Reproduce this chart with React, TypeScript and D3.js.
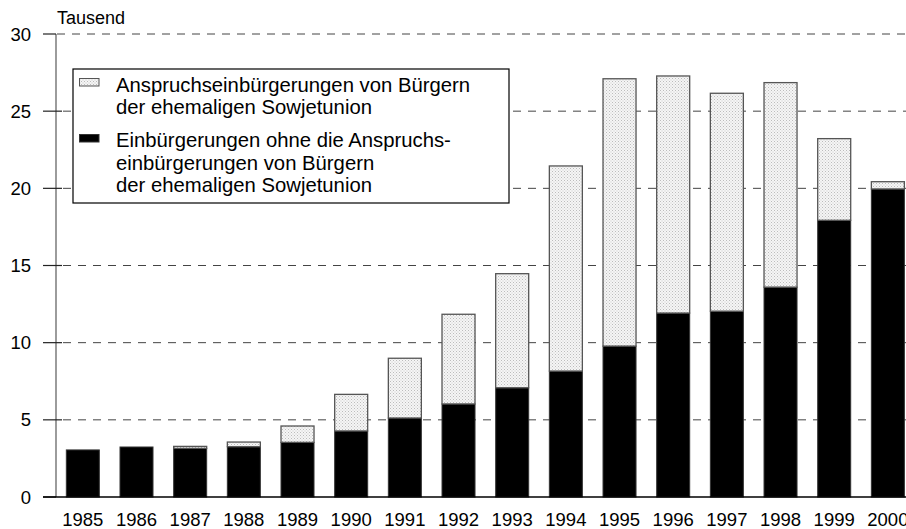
import React from 'react';
import * as d3 from 'd3';

const years = ['1985', '1986', '1987', '1988', '1989', '1990', '1991', '1992', '1993', '1994', '1995', '1996', '1997', '1998', '1999', '2000'];
// Einbürgerungen ohne die Anspruchseinbürgerungen (Tausend)
const ohne = [3.05, 3.24, 3.15, 3.26, 3.54, 4.28, 5.12, 6.03, 7.08, 8.16, 9.78, 11.92, 12.04, 13.6, 17.93, 19.96];
// Anspruchseinbürgerungen von Bürgern der ehemaligen Sowjetunion (Tausend)
const anspruch = [0, 0, 0.13, 0.3, 1.06, 2.37, 3.87, 5.81, 7.39, 13.29, 17.32, 15.36, 14.12, 13.25, 5.29, 0.47];
const yTicks = [0, 5, 10, 15, 20, 25, 30];
const legendTop = ['Anspruchseinbürgerungen von Bürgern', 'der ehemaligen Sowjetunion'];
const legendBottom = ['Einbürgerungen ohne die Anspruchs-', 'einbürgerungen von Bürgern', 'der ehemaligen Sowjetunion'];

const width = 906;
const height = 529;
const font = '"Liberation Sans", Arial, sans-serif';

export default function App() {
  const x = d3.scaleBand<string>().domain(years).range([56, 914.7]).paddingInner(0.385).paddingOuter(0.1925);
  const y = d3.scaleLinear().domain([0, 30]).range([497, 34]);

  return (
    <svg width={width} height={height} style={{ position: 'absolute', left: 0, top: 0, background: '#fff' }} fontFamily={font}>
      <defs>
        <pattern id="dots" width={3} height={3} patternUnits="userSpaceOnUse">
          <rect width={3} height={3} fill="#f5f5f5" />
          <rect x={0} y={0} width={1} height={1} fill="#bcbcbc" />
          <rect x={1.5} y={1.5} width={1} height={1} fill="#cccccc" />
        </pattern>
      </defs>

      {/* gridlines */}
      {yTicks.filter(t => t > 0).map(t => (
        <line key={'g' + t} x1={t === 30 ? 57 : 63} x2={width} y1={y(t)} y2={y(t)} stroke="#444" strokeWidth={1} strokeDasharray="8,7" />
      ))}

      {/* bars */}
      {years.map((yr, i) => (
        <g key={yr}>
          <rect x={x(yr)} y={y(ohne[i])} width={x.bandwidth()} height={y(0) - y(ohne[i])} fill="#000" stroke="#333" strokeWidth={1} />
          {anspruch[i] > 0 && (
            <rect x={x(yr)} y={y(ohne[i] + anspruch[i])} width={x.bandwidth()} height={y(ohne[i]) - y(ohne[i] + anspruch[i])} fill="url(#dots)" stroke="#555" strokeWidth={1.3} />
          )}
        </g>
      ))}

      {/* y axis */}
      <line x1={56} x2={56} y1={y(30)} y2={y(0)} stroke="#666" strokeWidth={1.3} />
      {yTicks.map(t => (
        <g key={'t' + t}>
          <line x1={43} x2={t === 0 || t === 30 ? 56 : 62} y1={y(t)} y2={y(t)} stroke="#222" strokeWidth={1.2} />
          <text x={31} y={y(t)} dy="0.36em" textAnchor="end" fontSize={18.5}>{t}</text>
        </g>
      ))}
      <text x={57} y={24} fontSize={18}>Tausend</text>

      {/* x axis */}
      <line x1={43} x2={width} y1={y(0)} y2={y(0)} stroke="#000" strokeWidth={1.5} />
      {years.map(yr => (
        <text key={'x' + yr} x={(x(yr) ?? 0) + x.bandwidth() / 2} y={526} textAnchor="middle" fontSize={18.5}>{yr}</text>
      ))}

      {/* legend */}
      <rect x={73} y={69} width={436} height={134} fill="#fff" stroke="#000" strokeWidth={1.2} />
      <rect x={79.5} y={78.5} width={19.5} height={7.5} fill="url(#dots)" stroke="#555" strokeWidth={1} />
      <rect x={79.5} y={134.5} width={19.5} height={7.5} fill="#000" stroke="#333" strokeWidth={1} />
      {legendTop.map((s, i) => (
        <text key={'lt' + i} x={116} y={92 + i * 22} fontSize={20.3}>{s}</text>
      ))}
      {legendBottom.map((s, i) => (
        <text key={'lb' + i} x={116} y={147 + i * 22.5} fontSize={20.3}>{s}</text>
      ))}
    </svg>
  );
}
